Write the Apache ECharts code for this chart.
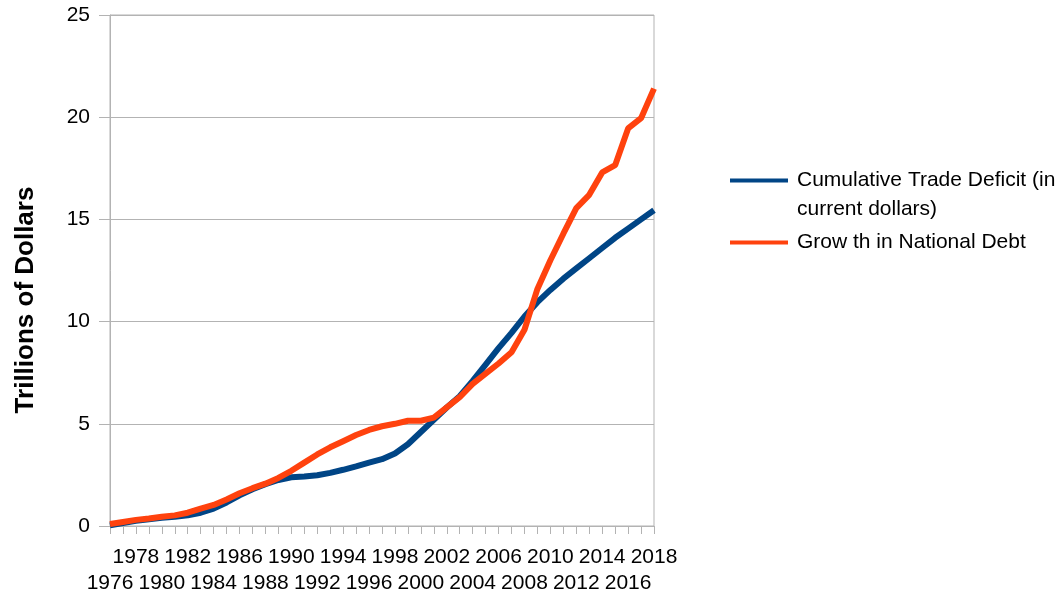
<!DOCTYPE html>
<html>
<head>
<meta charset="utf-8">
<script src="https://cdn.jsdelivr.net/npm/echarts@6/dist/echarts.min.js"></script>
<style>
html,body{margin:0;padding:0;background:#fff;}
#chart{width:1063px;height:605px;}
</style>
</head>
<body>
<div id="chart"></div>
<script>
const years = ['1976','1977','1978','1979','1980','1981','1982','1983','1984','1985','1986','1987','1988','1989','1990','1991','1992','1993','1994','1995','1996','1997','1998','1999','2000','2001','2002','2003','2004','2005','2006','2007','2008','2009','2010','2011','2012','2013','2014','2015','2016','2017','2018'];
const tradeDeficit = [0.03,0.15,0.25,0.33,0.4,0.45,0.52,0.65,0.85,1.15,1.5,1.8,2.05,2.25,2.38,2.42,2.48,2.6,2.75,2.92,3.1,3.27,3.55,4.0,4.6,5.2,5.8,6.35,7.1,7.9,8.7,9.45,10.25,10.95,11.55,12.1,12.6,13.1,13.6,14.1,14.55,15.0,15.45];
const nationalDebt = [0.1,0.2,0.3,0.37,0.45,0.52,0.65,0.85,1.03,1.3,1.6,1.85,2.07,2.35,2.7,3.1,3.5,3.85,4.15,4.45,4.7,4.88,5.0,5.15,5.15,5.3,5.8,6.3,6.95,7.45,7.95,8.5,9.6,11.6,13.0,14.3,15.55,16.2,17.3,17.65,19.45,19.95,21.4];
const seriesNames = ['\nCumulative Trade Deficit (in\ncurrent dollars)', 'Grow th in National Debt'];
const yTitle = 'Trillions of Dollars';

const FONT = '"Liberation Sans", Arial, sans-serif';
const GRID = '#b3b3b3';
const chart = echarts.init(document.getElementById('chart'), null, {renderer: 'canvas'});
chart.setOption({
  animation: false,
  backgroundColor: '#fff',
  textStyle: {fontFamily: FONT},
  grid: {left: 110, right: 409, top: 15, bottom: 79, show: true, borderColor: GRID, borderWidth: 1},
  legend: {
    orient: 'vertical', left: 730, top: 137, padding: 0, itemGap: 4,
    itemWidth: 58, itemHeight: 4, icon: 'rect',
    textStyle: {fontSize: 21, lineHeight: 29, color: '#000', fontFamily: FONT, padding: [0,0,0,4]},
    data: seriesNames
  },
  graphic: [{
    type: 'text', x: 26, y: 300, rotation: Math.PI / 2,
    style: {text: yTitle, font: 'bold 26px "Liberation Sans", Arial, sans-serif', fill: '#000', align: 'center', verticalAlign: 'middle'}
  }],
  xAxis: {
    type: 'category', data: years, boundaryGap: false,
    axisLine: {show: true, lineStyle: {color: GRID}},
    axisTick: {show: true, interval: 0, length: 8, lineStyle: {color: GRID}},
    axisLabel: {
      interval: 0, fontSize: 21, lineHeight: 26, margin: 18, color: '#000', fontFamily: FONT,
      formatter: function (v, i) { return i % 2 ? '' : (i % 4 === 0 ? '\n' + v : v); }
    },
    splitLine: {show: false}
  },
  yAxis: {
    type: 'value', min: 0, max: 25, interval: 5,
    axisLine: {show: true, lineStyle: {color: GRID}},
    axisTick: {show: true, length: 11, lineStyle: {color: GRID}},
    axisLabel: {fontSize: 21, margin: 20, color: '#000', fontFamily: FONT},
    splitLine: {show: true, lineStyle: {color: GRID}}
  },
  series: [
    {name: seriesNames[0], type: 'line', data: tradeDeficit, symbol: 'none', color: '#004586', lineStyle: {width: 6, color: '#004586'}},
    {name: seriesNames[1], type: 'line', data: nationalDebt, symbol: 'none', color: '#ff420e', lineStyle: {width: 6, color: '#ff420e'}}
  ]
});
</script>
</body>
</html>
